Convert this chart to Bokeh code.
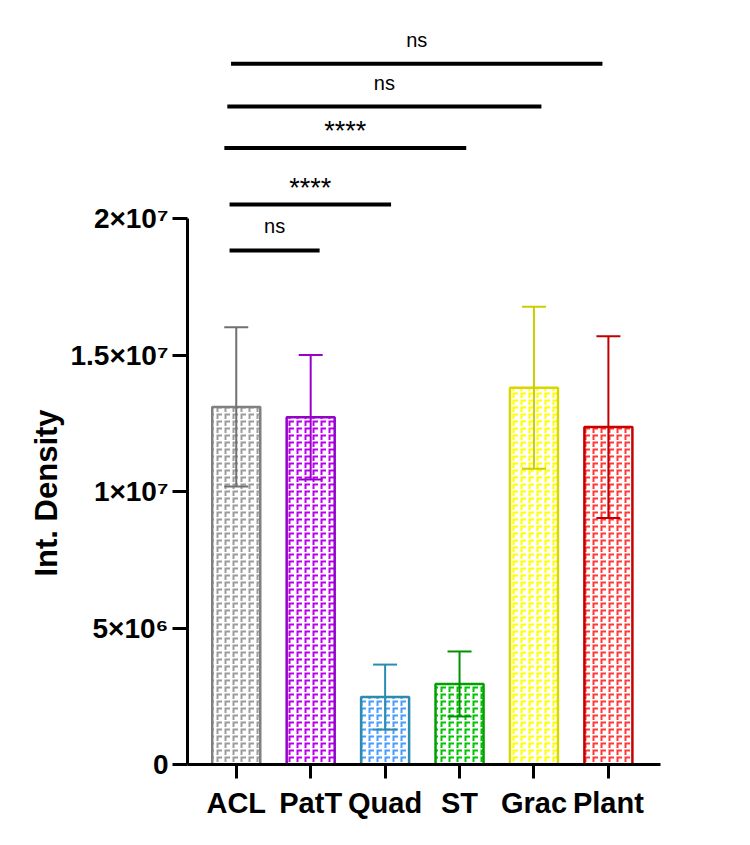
import base64
from bokeh.plotting import figure
from bokeh.models import ColumnDataSource, Range1d, FixedTicker, ImageURLTexture, Title
from bokeh.embed import file_html
from bokeh.resources import INLINE
from bokeh.core.properties import value

# ---------------- data ----------------
categories = ["ACL", "PatT", "Quad", "ST", "Grac", "Plant"]
means = [1.31e7, 1.272e7, 2.47e6, 2.95e6, 1.38e7, 1.236e7]
sds = [2.92e6, 2.28e6, 1.19e6, 1.19e6, 2.97e6, 3.33e6]

y_ticks = [0, 5000000, 10000000, 15000000, 20000000]
y_tick_labels = ["0", "5×10⁶", "1×10⁷", "1.5×10⁷", "2×10⁷"]
y_title = "Int. Density"

sig_from = ["ACL", "ACL", "ACL", "ACL", "ACL"]
sig_to = ["PatT", "Quad", "ST", "Grac", "Plant"]
sig_labels = ["ns", "****", "****", "ns", "ns"]
sig_heights = [1.883e7, 2.051e7, 2.258e7, 2.410e7, 2.567e7]

# ---------------- style ----------------
outline_colors = ["#808080", "#9400cc", "#2b8cb0", "#00a000", "#d8d800", "#c80000"]
hatch_colors = ["#9c9c9c", "#bb00f0", "#4a9cff", "#00c400", "#ffff00", "#ff3838"]
error_colors = ["#707070", "#9a00c8", "#2b8cb0", "#009000", "#cccc00", "#c00000"]
sig_start_off = [-0.09, -0.09, -0.16, -0.12, -0.07]
sig_end_off = [0.12, 0.08, 0.09, 0.10, -0.08]
sig_text_offset = [-24, -17, -17, -24, -24]
sig_font_size = ["20px", "27px", "27px", "20px", "20px"]
FONT = "Liberation Sans"


def tile(color):
    svg = ("<svg xmlns='http://www.w3.org/2000/svg' width='8' height='7'>"
           "<path d='M1.5 6 V1.5 H6' stroke='%s' stroke-width='2' fill='none'/>"
           "</svg>" % color)
    return "data:image/svg+xml;base64," + base64.b64encode(svg.encode()).decode()


hatch_names = ["pat_%d" % i for i in range(len(categories))]
hatch_extra = {n: ImageURLTexture(url=tile(c), repetition="repeat")
               for n, c in zip(hatch_names, hatch_colors)}

xs = list(range(len(categories)))
src = ColumnDataSource(dict(
    x=xs, cat=categories, mean=means,
    lo=[m - s for m, s in zip(means, sds)],
    hi=[m + s for m, s in zip(means, sds)],
    oc=outline_colors, ec=error_colors, hatch=hatch_names,
))

X0, X1 = -0.655, 5.70
p = figure(width=750, height=845, output_backend="svg", toolbar_location=None,
           x_range=Range1d(X0, X1), y_range=Range1d(0, 2.762e7),
           min_border_left=187, min_border_right=90, min_border_top=10,
           min_border_bottom=81)
p.outline_line_color = None
p.grid.visible = False
p.background_fill_color = "white"
p.border_fill_color = "white"

p.vbar(x="x", top="mean", bottom=0, width=0.645, source=src,
       fill_color="white", line_color="oc", line_width=2.5,
       hatch_pattern="hatch", hatch_extra=hatch_extra)

p.segment(x0="x", y0="lo", x1="x", y1="hi", source=src,
          line_color="ec", line_width=2)
p.scatter(x="x", y="hi", marker="dash", size=24, source=src,
          line_color="ec", line_width=2)
p.scatter(x="x", y="lo", marker="dash", size=24, source=src,
          line_color="ec", line_width=2)

# significance bars
idx = {c: i for i, c in enumerate(categories)}
sx0 = [idx[a] + o for a, o in zip(sig_from, sig_start_off)]
sx1 = [idx[b] + o for b, o in zip(sig_to, sig_end_off)]
sig_src = ColumnDataSource(dict(
    x0=sx0, x1=sx1, y=sig_heights, label=sig_labels,
    xm=[(a + b) / 2 for a, b in zip(sx0, sx1)], yoff=sig_text_offset,
    fs=sig_font_size,
))
p.segment(x0="x0", y0="y", x1="x1", y1="y", source=sig_src,
          line_color="black", line_width=4)
p.text(x="xm", y="y", text="label", source=sig_src, y_offset="yoff",
       text_align="center", text_baseline="alphabetic",
       text_font=value(FONT), text_font_size="fs", text_color="black")

# axes
ya = p.yaxis[0]
ya.ticker = FixedTicker(ticks=y_ticks)
ya.major_label_overrides = {t: l for t, l in zip(y_ticks, y_tick_labels)}
ya.bounds = (0, 2e7)
ya.axis_line_width = 3
ya.axis_line_color = "black"
ya.major_tick_line_width = 3
ya.major_tick_out = 15
ya.major_tick_in = 0
ya.minor_tick_line_color = None
ya.major_label_text_font = FONT
ya.major_label_text_font_style = "bold"
ya.major_label_text_font_size = "28px"
ya.major_label_text_color = "black"
ya.major_label_standoff = 4

# y-axis title as a left-side title, placed to centre on the drawn axis
p.add_layout(Title(text=y_title, align="left", offset=188,
                   text_font=FONT, text_font_style="bold",
                   text_font_size="31px", text_color="black", standoff=8), "left")

xa = p.xaxis[0]
xa.ticker = FixedTicker(ticks=xs)
xa.major_label_overrides = {i: c for i, c in zip(xs, categories)}
xa.axis_line_width = 3
xa.axis_line_color = "black"
xa.major_tick_line_width = 3
xa.major_tick_out = 14
xa.major_tick_in = 0
xa.minor_tick_line_color = None
xa.major_label_text_font = FONT
xa.major_label_text_font_style = "bold"
xa.major_label_text_font_size = "29px"
xa.major_label_text_color = "black"
xa.major_label_standoff = 8

open("out.html", "w").write(file_html(p, INLINE))
